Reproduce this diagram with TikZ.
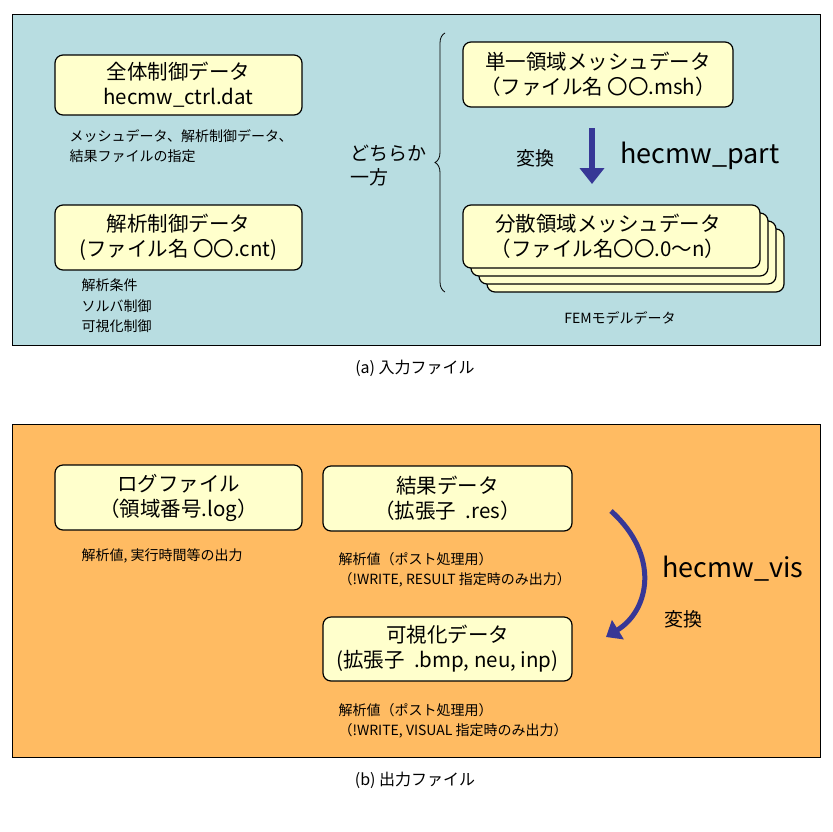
\documentclass[tikz,border=0pt]{standalone}
\usepackage{fontspec}
\setmainfont{Liberation Sans}
\newfontfamily\cjk{Noto Sans CJK JP}
\usetikzlibrary{decorations.pathreplacing,arrows.meta}
\definecolor{pa}{RGB}{184,221,225}
\definecolor{pb}{RGB}{255,187,98}
\definecolor{bx}{RGB}{255,255,204}
\definecolor{ar}{RGB}{55,55,150}
\begin{document}
\begin{tikzpicture}[x=1pt,y=-1pt,
 box/.style={draw,line width=1.2pt,rounded corners=8pt,fill=bx},
 bt/.style={font=\cjk\fontsize{20.5}{25}\selectfont,align=center},
 sm/.style={font=\cjk\fontsize{14}{20.5}\selectfont,align=left,anchor=west},
 captxt/.style={font=\cjk\fontsize{16}{18}\selectfont}]
\useasboundingbox (0,0) rectangle (833,831);
\fill[white] (0,0) rectangle (833,831);
% panel a
\draw[fill=pa,line width=0.6pt] (12,14) rectangle (820,345);
\node[captxt] (ca) at (415,368) {(a) 入力ファイル};
\draw[box] (55,55) rectangle (302,115);
\node[bt] (t1) at (178.5,85) {全体制御データ\\hecmw\_ctrl.dat};
\node[sm] (s1) at (66,146) {メッシュデータ、解析制御データ、\\結果ファイルの指定};
\draw[box] (55,205) rectangle (302,270);
\node[bt] (t2) at (178.5,237.5) {解析制御データ\\(ファイル名 〇〇.cnt)};
\node[sm] (s2) at (78,306) {解析条件\\ソルバ制御\\可視化制御};
\draw[decorate,decoration={brace,amplitude=10pt},line width=0.8pt] (445,292) -- (445,33);
\node[font=\cjk\fontsize{19}{24}\selectfont,align=left] (dc) at (388,166) {どちらか\\一方};
\draw[box] (463,42) rectangle (733,107);
\node[bt] (t3) at (598,74.5) {単一領域メッシュデータ\\（ファイル名 〇〇.msh）};
\foreach \d in {24,16,8}{\draw[box] (463+\d,205+\d) rectangle (760+\d,268+\d);}
\draw[box] (463,205) rectangle (760,268);
\node[bt] (t4) at (608,236.5) {分散領域メッシュデータ\\（ファイル名〇〇.0〜n）};
\coordinate (a1) at (592,128);
\coordinate (a2) at (592,184);
\draw[ar,line width=6pt,-{Triangle[length=16pt,width=24pt]}] (a1) -- (a2);
\node[font=\cjk\fontsize{19}{22}\selectfont] (hen1) at (535,158) {変換};
\node[font=\cjk\fontsize{27}{30}\selectfont] (hp) at (700,156) {hecmw\_part};
\node[font=\cjk\fontsize{14}{16}\selectfont] (fem) at (620,318) {FEMモデルデータ};
% panel b
\draw[fill=pb,line width=0.6pt] (12,424) rectangle (820,757);
\node[captxt] (cb) at (415,780) {(b) 出力ファイル};
\draw[box] (55,465) rectangle (302,530);
\node[bt] (t5) at (178.5,497.5) {ログファイル\\（領域番号.log）};
\node[sm] (s5) at (78,556) {解析値, 実行時間等の出力};
\draw[box] (323,466) rectangle (572,531);
\node[bt] (t6) at (447.5,498.5) {結果データ\\（拡張子\ \ .res）};
\node[sm] (s6) at (335,570) {解析値（ポスト処理用）\\（!WRITE, RESULT 指定時のみ出力）};
\draw[box] (323,617) rectangle (572,681);
\node[bt] (t7) at (447.5,649) {可視化データ\\(拡張子\ \ .bmp, neu, inp)};
\node[sm] (s7) at (335,721) {解析値（ポスト処理用）\\（!WRITE, VISUAL 指定時のみ出力）};
\coordinate (b1) at (611,511);
\coordinate (b2) at (606,637);
\draw[ar,line width=5pt,-{Triangle[length=14pt,width=22pt]}] (b1) .. controls (660,555) and (650,610) .. (b2);
\node[font=\cjk\fontsize{27}{30}\selectfont] (hv) at (733,569) {hecmw\_vis};
\node[font=\cjk\fontsize{19}{22}\selectfont] (hen2) at (683,619) {変換};
\end{tikzpicture}
\end{document}
